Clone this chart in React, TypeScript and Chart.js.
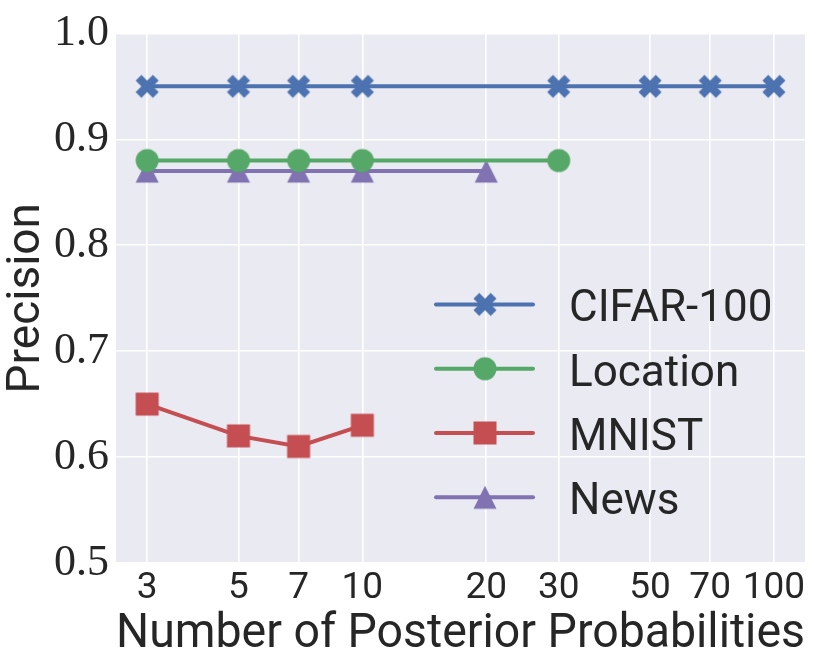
import React, { useEffect, useRef } from 'react';
import Chart from 'chart.js/auto';

const xTicks = [3, 5, 7, 10, 20, 30, 50, 70, 100];
const yTicks = [0.5, 0.6, 0.7, 0.8, 0.9, 1.0];

const seriesNames = ['CIFAR-100', 'Location', 'MNIST', 'News'];
const cifarX = [3, 5, 7, 10, 30, 50, 70, 100];
const cifarY = [0.95, 0.95, 0.95, 0.95, 0.95, 0.95, 0.95, 0.95];
const locationX = [3, 5, 7, 10, 30];
const locationY = [0.88, 0.88, 0.88, 0.88, 0.88];
const mnistX = [3, 5, 7, 10];
const mnistY = [0.65, 0.62, 0.61, 0.63];
const newsX = [3, 5, 7, 10, 20];
const newsY = [0.87, 0.87, 0.87, 0.87, 0.87];

const colors = ['#4C72B0', '#55A868', '#C44E52', '#8172B2'];
const markerKinds = ['x', 'circle', 'square', 'triangle'];

function makeMarker(kind: string, color: string): HTMLCanvasElement {
  const S = 28;
  const c = document.createElement('canvas');
  c.width = S;
  c.height = S;
  const ctx = c.getContext('2d')!;
  const cx = S / 2;
  const cy = S / 2;
  ctx.fillStyle = color;
  ctx.beginPath();
  if (kind === 'circle') {
    ctx.arc(cx, cy, 11.5, 0, Math.PI * 2);
  } else if (kind === 'square') {
    ctx.rect(cx - 11.5, cy - 11.5, 23, 23);
  } else if (kind === 'triangle') {
    ctx.moveTo(cx, cy - 11.5);
    ctx.lineTo(cx + 11.5, cy + 11.5);
    ctx.lineTo(cx - 11.5, cy + 11.5);
    ctx.closePath();
  } else {
    const L = 12.2;
    const w = 4.1;
    const pts: [number, number][] = [
      [w, w], [L, w], [L, -w], [w, -w], [w, -L], [-w, -L],
      [-w, -w], [-L, -w], [-L, w], [-w, w], [-w, L], [w, L],
    ];
    const a = Math.PI / 4;
    pts.forEach(([px, py], i) => {
      const rx = px * Math.cos(a) - py * Math.sin(a);
      const ry = px * Math.sin(a) + py * Math.cos(a);
      if (i === 0) ctx.moveTo(cx + rx, cy + ry);
      else ctx.lineTo(cx + rx, cy + ry);
    });
    ctx.closePath();
  }
  ctx.fill();
  return c;
}

export default function App() {
  const ref = useRef<HTMLCanvasElement>(null);

  useEffect(() => {
    const markers = colors.map((col, i) => makeMarker(markerKinds[i], col));
    const xs = [cifarX, locationX, mnistX, newsX];
    const ys = [cifarY, locationY, mnistY, newsY];

    const bgPlugin = {
      id: 'bg',
      beforeDraw(chart: any) {
        const { ctx, chartArea } = chart;
        ctx.save();
        ctx.fillStyle = '#EAEAF2';
        ctx.fillRect(chartArea.left, chartArea.top, chartArea.right - chartArea.left, chartArea.bottom - chartArea.top);
        ctx.restore();
      },
    };

    const legendPlugin = {
      id: 'customLegend',
      afterDatasetsDraw(chart: any) {
        const { ctx, chartArea } = chart;
        const right = chartArea.right;
        const top = chartArea.top;
        ctx.save();
        seriesNames.forEach((name, i) => {
          const y = top + 271 + i * 64.3;
          ctx.strokeStyle = colors[i];
          ctx.lineWidth = 4;
          ctx.lineCap = 'round';
          ctx.beginPath();
          ctx.moveTo(right - 369, y);
          ctx.lineTo(right - 272, y);
          ctx.stroke();
          const m = markers[i];
          ctx.drawImage(m, right - 320 - m.width / 2, y - m.height / 2);
          ctx.fillStyle = '#262626';
          ctx.font = '44px Roboto';
          ctx.textBaseline = 'alphabetic';
          ctx.textAlign = 'left';
          ctx.fillText(name, right - 236, y + 17);
        });
        ctx.restore();
      },
    };

    const chart = new Chart(ref.current!, {
      type: 'line',
      data: {
        datasets: seriesNames.map((name, i) => ({
          label: name,
          data: xs[i].map((x, j) => ({ x, y: ys[i][j] })),
          borderColor: colors[i],
          backgroundColor: colors[i],
          borderWidth: 4,
          pointStyle: markers[i] as any,
          pointRadius: 12,
          pointHoverRadius: 12,
          tension: 0,
          fill: false,
        })),
      },
      options: {
        animation: false,
        responsive: false,
        devicePixelRatio: 1,
        layout: { padding: { top: 33, right: 25, left: 0, bottom: 0 } },
        plugins: {
          legend: { display: false },
          tooltip: { enabled: false },
        },
        scales: {
          x: {
            type: 'logarithmic',
            min: 2.52,
            max: 119,
            afterBuildTicks(scale: any) {
              scale.ticks = xTicks.map((v) => ({ value: v }));
            },
            afterFit(scale: any) {
              scale.height = 101;
            },
            border: { display: false },
            grid: { color: '#FFFFFF', lineWidth: 1.6, drawTicks: false },
            ticks: {
              autoSkip: false,
              maxRotation: 0,
              padding: 4,
              color: '#262626',
              font: { family: 'Roboto', size: 37 },
              callback: (v: any) => String(v),
            },
            title: {
              display: true,
              text: 'Number of Posterior Probabilities',
              color: '#262626',
              font: { family: 'Roboto', size: 48 },
              padding: { top: 0, bottom: 0 },
            },
          },
          y: {
            min: 0.5,
            max: 1.0,
            afterBuildTicks(scale: any) {
              scale.ticks = yTicks.map((v) => ({ value: v }));
            },
            afterFit(scale: any) {
              scale.width = 116;
            },
            border: { display: false },
            grid: { color: '#FFFFFF', lineWidth: 1.6, drawTicks: false },
            ticks: {
              padding: 7,
              color: '#262626',
              font: { family: 'Liberation Serif', size: 44 },
              callback: (v: any) => Number(v).toFixed(1),
            },
            title: {
              display: true,
              text: 'Precision',
              color: '#262626',
              font: { family: 'Roboto', size: 46 },
              padding: { top: 0, bottom: 0 },
            },
          },
        },
      },
      plugins: [bgPlugin, legendPlugin],
    });
    return () => chart.destroy();
  }, []);

  return (
    <div style={{ position: 'fixed', left: 0, top: 0, width: 830, height: 664, background: '#fff' }}>
      <canvas ref={ref} width={830} height={664} style={{ width: 830, height: 664 }} />
    </div>
  );
}
